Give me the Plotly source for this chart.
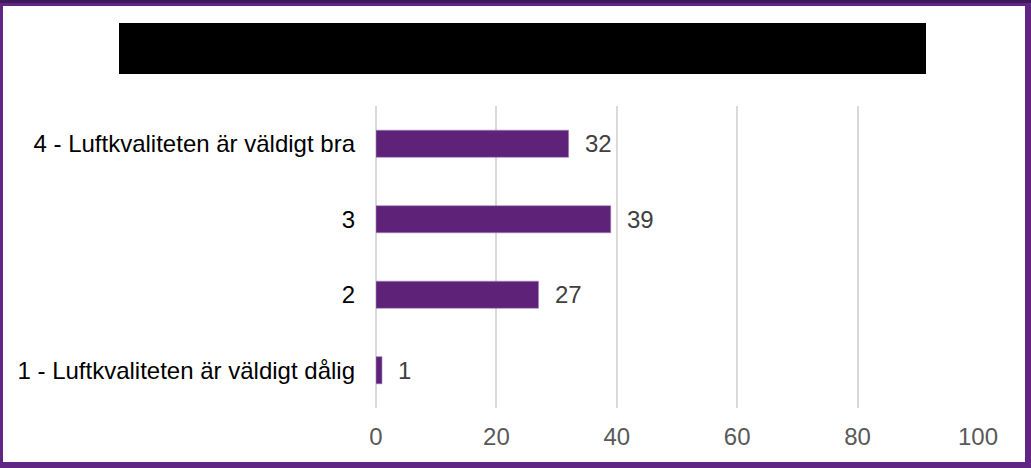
import plotly.graph_objects as go

categories = ["4 - Luftkvaliteten är väldigt bra", "3", "2", "1 - Luftkvaliteten är väldigt dålig"]
values = [32, 39, 27, 1]
tick_vals = [0, 20, 40, 60, 80, 100]

W, H = 1031, 468
L, R, T, B = 376, 53, 106, 60
PW, PH = W - L - R, H - T - B

def px(x):
    return (x - L) / PW

def py(y):
    return (H - B - y) / PH

BAR = "#5e2379"
FONT = "Liberation Sans, Arial, sans-serif"
order = categories[::-1]

fig = go.Figure()
fig.add_trace(go.Bar(
    x=values, y=categories, orientation="h",
    marker=dict(color=BAR, line=dict(color="#a58cc0", width=0.6)),
    width=0.36, hoverinfo="skip",
))

for c, v in zip(categories, values):
    fig.add_annotation(x=v, y=order.index(c), text=str(v), showarrow=False, xanchor="left",
                       xshift=14, font=dict(family=FONT, size=24, color="#404040"))

shapes = [
    dict(type="rect", xref="paper", yref="paper", x0=px(3), x1=px(1025), y0=py(462), y1=py(6),
         fillcolor="white", line=dict(width=0), layer="below"),
    dict(type="rect", xref="paper", yref="paper", x0=px(0), x1=px(W), y0=py(3), y1=py(0),
         fillcolor="#3d1b58", line=dict(width=0), layer="below"),
    dict(type="rect", xref="paper", yref="paper", x0=px(119), x1=px(926), y0=py(74), y1=py(23),
         fillcolor="black", line=dict(width=0), layer="above"),
]

fig.update_layout(
    width=W, height=H,
    margin=dict(l=L, r=R, t=T, b=B, pad=0),
    paper_bgcolor="#612683",
    plot_bgcolor="rgba(0,0,0,0)",
    showlegend=False,
    shapes=shapes,
    font=dict(family=FONT, size=24),
    xaxis=dict(range=[0, 100], tickvals=tick_vals, showgrid=True, gridcolor="#d9d9d9", gridwidth=1.5,
               zeroline=True, zerolinecolor="#d9d9d9", zerolinewidth=1.5, showline=False, ticks="",
               tickfont=dict(size=24, color="#595959"), ticklabelstandoff=12, fixedrange=True),
    yaxis=dict(type="category", categoryorder="array", categoryarray=order, showgrid=False,
               zeroline=False, ticks="", tickfont=dict(size=24, color="#000000"),
               ticklabelstandoff=20, fixedrange=True),
)

fig.write_html("out.html", config={"displayModeBar": False})
